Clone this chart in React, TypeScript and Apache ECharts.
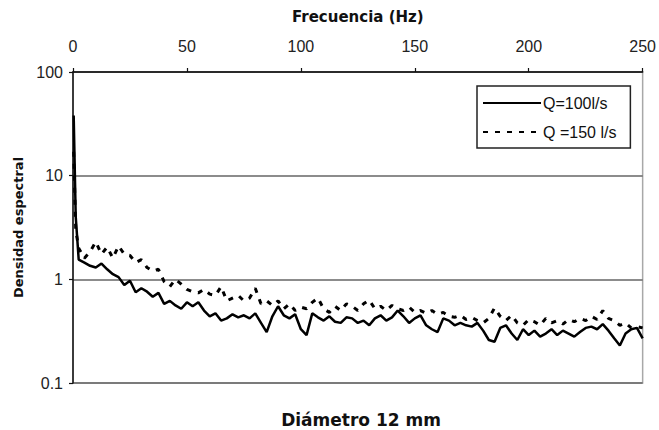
import React, { useEffect, useRef } from "react";
import * as echarts from "echarts";

const freqs = [
  0.3, 1.2, 2.5, 5, 7.5, 10, 12.5, 15, 17.5, 20, 22.5, 25, 27.5, 30, 32.5, 35, 37.5, 40, 42.5, 45, 47.5,
  50, 52.5, 55, 57.5, 60, 62.5, 65, 67.5, 70, 72.5, 75, 77.5, 80, 82.5, 85, 87.5, 90, 92.5, 95, 97.5,
  100, 102.5, 105, 107.5, 110, 112.5, 115, 117.5, 120, 122.5, 125, 127.5, 130, 132.5, 135, 137.5, 140, 142.5, 145, 147.5,
  150, 152.5, 155, 157.5, 160, 162.5, 165, 167.5, 170, 172.5, 175, 177.5, 180, 182.5, 185, 187.5, 190, 192.5, 195, 197.5,
  200, 202.5, 205, 207.5, 210, 212.5, 215, 217.5, 220, 222.5, 225, 227.5, 230, 232.5, 235, 237.5, 240, 242.5, 245, 247.5, 250,
];

const q100 = [
  38, 4, 1.55, 1.45, 1.35, 1.3, 1.42, 1.25, 1.12, 1.05, 0.88, 0.97, 0.75, 0.82, 0.76, 0.68, 0.74, 0.58, 0.62, 0.56, 0.52,
  0.6, 0.55, 0.6, 0.5, 0.44, 0.47, 0.4, 0.42, 0.46, 0.43, 0.45, 0.42, 0.47, 0.38, 0.31, 0.44, 0.55, 0.45, 0.42, 0.46,
  0.33, 0.29, 0.47, 0.43, 0.4, 0.44, 0.39, 0.38, 0.43, 0.42, 0.38, 0.4, 0.36, 0.42, 0.45, 0.4, 0.43, 0.5, 0.44, 0.38,
  0.42, 0.45, 0.36, 0.33, 0.31, 0.42, 0.4, 0.36, 0.38, 0.36, 0.35, 0.38, 0.32, 0.26, 0.25, 0.34, 0.36, 0.3, 0.26, 0.33,
  0.29, 0.32, 0.28, 0.3, 0.33, 0.29, 0.32, 0.3, 0.28, 0.31, 0.34, 0.35, 0.33, 0.37, 0.32, 0.27, 0.23, 0.3, 0.33, 0.34, 0.27,
];

const q150 = [
  17, 3, 2.0, 1.6, 1.85, 2.3, 1.75, 2.05, 1.6, 2.1, 1.75, 1.7, 1.45, 1.55, 1.3, 1.2, 1.25, 0.95, 0.85, 1.0, 0.9,
  0.8, 0.76, 0.74, 0.8, 0.72, 0.7, 0.85, 0.62, 0.66, 0.7, 0.62, 0.66, 0.82, 0.58, 0.62, 0.56, 0.62, 0.52, 0.58, 0.5,
  0.54, 0.52, 0.6, 0.66, 0.52, 0.48, 0.55, 0.5, 0.58, 0.55, 0.5, 0.58, 0.63, 0.52, 0.55, 0.5, 0.56, 0.52, 0.5, 0.54,
  0.48, 0.5, 0.47, 0.5, 0.46, 0.48, 0.44, 0.43, 0.45, 0.41, 0.43, 0.4, 0.38, 0.42, 0.53, 0.44, 0.4, 0.45, 0.38, 0.36,
  0.41, 0.39, 0.36, 0.42, 0.38, 0.4, 0.37, 0.41, 0.39, 0.42, 0.4, 0.44, 0.41, 0.5, 0.42, 0.4, 0.36, 0.38, 0.34, 0.35, 0.34,
];

const seriesNames = ["Q=100l/s", "Q =150 l/s"];
const xTitle = "Frecuencia (Hz)";
const yTitle = "Densidad espectral";
const bottomTitle = "Diámetro 12 mm";

const FONT = "'Liberation Sans', Arial, sans-serif";
const BOLD_FONT = "'DejaVu Sans', sans-serif";

export default function App() {
  const ref = useRef<HTMLDivElement>(null);
  useEffect(() => {
    document.body.style.margin = "0";
    const chart = echarts.init(ref.current!, null, { renderer: "svg" });
    chart.setOption({
      animation: false,
      backgroundColor: "#fff",
      textStyle: { fontFamily: FONT },
      grid: {
        left: 73,
        right: 14,
        top: 72,
        bottom: 47,
        show: true,
        borderColor: "#a8a8a8",
        borderWidth: 1.5,
      },
      title: {
        text: bottomTitle,
        left: 361,
        textAlign: "center",
        top: 410,
        padding: 0,
        textStyle: { fontFamily: BOLD_FONT, fontSize: 17, fontWeight: "bold", color: "#111", lineHeight: 20 },
      },
      legend: {
        left: 477,
        top: 86,
        orient: "vertical",
        borderColor: "#222",
        borderWidth: 1.5,
        padding: [9, 14, 8, 5],
        itemGap: 13,
        itemWidth: 58,
        itemHeight: 14,
        itemStyle: { opacity: 0 },
        textStyle: { fontFamily: FONT, fontSize: 16, color: "#111", padding: [0, 0, 0, -3] },
        data: seriesNames,
      },
      xAxis: {
        type: "value",
        position: "top",
        min: 0,
        max: 250,
        interval: 50,
        name: xTitle,
        nameLocation: "middle",
        nameGap: 48,
        nameTextStyle: { fontFamily: BOLD_FONT, fontSize: 15, fontWeight: "bold", color: "#111" },
        axisLine: { show: true, onZero: false, lineStyle: { color: "#111", width: 1.5 } },
        axisTick: { show: true, length: 4, lineStyle: { color: "#111", width: 1.2 } },
        axisLabel: { fontFamily: FONT, fontSize: 16, color: "#222", margin: 18 },
        splitLine: { show: false },
      },
      yAxis: {
        type: "log",
        logBase: 10,
        min: 0.1,
        max: 100,
        name: yTitle,
        nameLocation: "middle",
        nameGap: 39,
        nameTextStyle: { fontFamily: BOLD_FONT, fontSize: 13, fontWeight: "bold", color: "#111" },
        axisLine: { show: true, onZero: false, lineStyle: { color: "#111", width: 1.5 } },
        axisTick: { show: true, length: 4, lineStyle: { color: "#111", width: 1.2 } },
        axisLabel: { fontFamily: FONT, fontSize: 16, color: "#222", margin: 10 },
        splitLine: { show: true, lineStyle: { color: "#666", width: 1.5 } },
      },
      series: [
        {
          name: seriesNames[0],
          type: "line",
          symbol: "none",
          data: freqs.map((f, i) => [f, q100[i]]),
          lineStyle: { color: "#000", width: 2.5, type: "solid" },
          itemStyle: { color: "#000" },
          z: 3,
        },
        {
          name: seriesNames[1],
          type: "line",
          symbol: "none",
          data: freqs.map((f, i) => [f, q150[i]]),
          lineStyle: { color: "#000", width: 3, type: [5, 7] },
          itemStyle: { color: "#000" },
          z: 2,
        },
      ],
    });
    return () => chart.dispose();
  }, []);
  return (
    <div
      ref={ref}
      style={{ position: "absolute", left: 0, top: 0, width: 659, height: 430 }}
    />
  );
}
